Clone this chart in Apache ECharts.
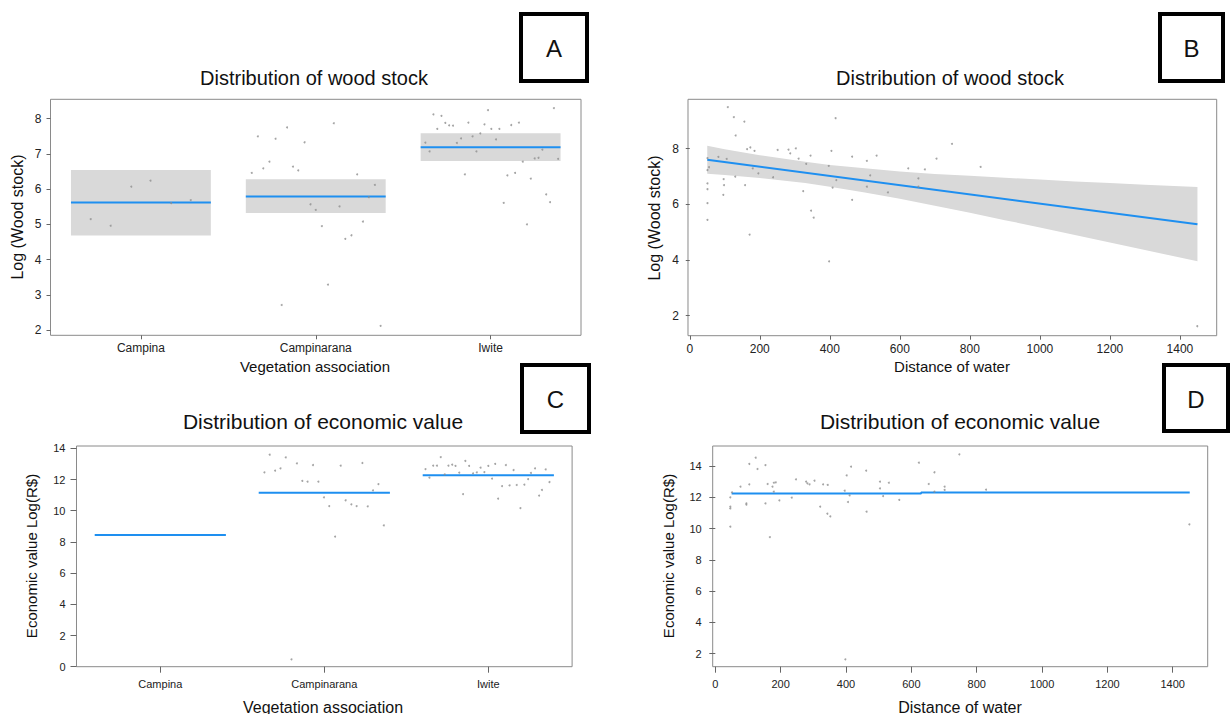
<!DOCTYPE html>
<html>
<head>
<meta charset="utf-8">
<script src="https://cdn.jsdelivr.net/npm/echarts@6/dist/echarts.min.js"></script>
<style>
html,body{margin:0;padding:0;background:#fff;}
#c{width:1231px;height:714px;}
</style>
</head>
<body>
<div id="c"></div>
<script>
// ---------- data ----------
const vegCategories = ['Campina', 'Campinarana', 'Iwite'];
const catPositions = [1, 2, 3];

// Panel A: wood stock by vegetation (effect bands)
const woodMean = [5.62, 5.79, 7.19];
const woodLow = [4.68, 5.32, 6.80];
const woodHigh = [6.54, 6.28, 7.585];
const woodPointsA = [
  [0.713,5.15],[0.827,4.96],[0.945,6.07],[1.055,6.24],[1.173,5.60],[1.285,5.69],
  [1.634,6.46],[1.669,7.50],[1.700,6.59],[1.735,6.78],[1.770,7.43],[1.805,2.71],[1.836,7.75],
  [1.870,6.64],[1.900,6.53],[1.936,7.33],[1.970,5.57],[2.000,5.41],[2.035,4.95],[2.070,3.29],
  [2.103,7.87],[2.136,5.51],[2.169,4.59],[2.204,4.69],[2.237,6.42],[2.270,5.08],[2.303,5.77],
  [2.338,6.12],[2.371,2.12],
  [2.627,7.32],[2.651,7.07],[2.673,8.12],[2.695,7.71],[2.719,8.08],[2.741,7.88],[2.763,7.81],
  [2.785,7.80],[2.807,7.31],[2.831,7.44],[2.853,6.42],[2.873,7.89],[2.897,7.50],[2.919,7.07],
  [2.941,7.58],[2.965,7.84],[2.985,8.24],[3.004,7.71],[3.031,7.41],[3.050,7.71],[3.075,5.61],
  [3.096,6.39],[3.118,7.82],[3.140,6.46],[3.162,7.89],[3.184,6.78],[3.208,5.00],[3.230,6.30],
  [3.252,6.87],[3.274,6.89],[3.296,7.12],[3.318,5.85],[3.340,5.63],[3.362,8.30],[3.386,6.86]
];
const yTicksA = [2, 3, 4, 5, 6, 7, 8];

// Panel B: wood stock vs distance of water
const fitLineB = [[50, 7.60], [1450, 5.28]];
const bandBX    = [50,   100,  200,  330,  400,  500,  600,  700,  800,  900,  1000, 1100, 1200, 1300, 1450];
const bandBHigh = [8.10, 7.98, 7.76, 7.53, 7.41, 7.29, 7.18, 7.09, 7.02, 6.95, 6.89, 6.82, 6.76, 6.70, 6.62];
const bandBLow  = [7.10, 7.05, 6.94, 6.76, 6.63, 6.42, 6.20, 5.95, 5.70, 5.43, 5.17, 4.90, 4.63, 4.36, 3.95];
const woodPointsB = [
  [108.7,9.49],[125.9,9.13],[156,8.97],[131,8.47],[50.6,7.66],[54.9,7.33],[50.6,7.23],[50.6,6.75],
  [50.6,6.54],[50.6,6.04],[50.6,5.44],[81.8,7.70],[105.5,7.63],[96.8,6.90],[97.9,6.69],[95.8,6.34],
  [130,6.99],[158,6.69],[171,4.91],[163.6,7.98],[173,8.04],[185,7.92],[180,7.29],[196,7.11],
  [238,6.97],[251,7.95],[282,7.96],[287,7.83],[303,8.01],[311,7.64],[324,6.47],[332.6,7.45],
  [345,7.75],[346.5,5.77],[354,5.52],[397,7.38],[398,3.95],[404.6,7.92],[408,6.60],[416.5,9.09],
  [418.6,6.87],[463.8,7.71],[463.8,6.16],[505.8,7.56],[505.8,6.63],[515.4,7.04],[533.7,7.75],
  [566,6.43],[624,7.29],[653,6.93],[653,6.63],[671.5,7.25],[704.8,7.64],[749,8.17],[830.7,7.34],
  [1449.5,1.62]
];
const xTicksB = [0, 200, 400, 600, 800, 1000, 1200, 1400];
const yTicksB = [2, 4, 6, 8];

// Panel C: economic value by vegetation
const econMean = [8.44, 11.16, 12.27];
const econPointsC = [
  [1.635,12.46],[1.667,13.59],[1.700,12.57],[1.733,12.72],[1.765,13.42],[1.800,0.47],[1.833,13.04],
  [1.866,11.91],[1.898,11.86],[1.931,12.93],[1.964,11.86],[1.998,10.86],[2.030,10.30],[2.066,8.34],
  [2.100,12.89],[2.130,10.67],[2.165,10.41],[2.197,10.30],[2.232,13.06],[2.265,10.28],[2.297,11.31],
  [2.330,11.71],[2.363,9.06],
  [2.617,12.67],[2.641,12.12],[2.664,12.89],[2.687,12.89],[2.710,13.44],[2.734,12.33],[2.757,12.89],
  [2.780,12.95],[2.800,12.87],[2.823,12.44],[2.846,11.07],[2.860,13.19],[2.883,12.87],[2.907,12.40],
  [2.930,12.46],[2.953,12.76],[2.976,12.48],[3.000,12.87],[3.023,12.06],[3.042,13.00],[3.060,10.77],
  [3.084,11.58],[3.107,12.93],[3.130,11.63],[3.154,12.61],[3.173,11.65],[3.196,10.17],[3.220,11.67],
  [3.243,12.03],[3.260,12.42],[3.285,12.72],[3.310,10.97],[3.327,11.33],[3.350,12.65],[3.373,11.84]
];
const yTicksC = [0, 2, 4, 6, 8, 10, 12, 14];

// Panel D: economic value vs distance of water
const fitLineD = [[50, 12.25], [630, 12.25], [630, 12.30], [1452, 12.30]];
const econPointsD = [
  [46,10.12],[46,11.29],[46,11.40],[46,12.00],[51,12.32],[77,12.68],[95,11.61],[95,11.53],[104,14.13],
  [104,12.83],[123.5,14.53],[129,13.81],[153.5,14.06],[153.5,11.61],[160,12.85],[167,9.46],[175,12.68],
  [179,12.36],[179,12.93],[185,12.96],[196,11.80],[234,11.98],[247,13.15],[278,13.00],[282,12.89],
  [288.5,12.83],[303.5,13.06],[321,11.40],[330,12.83],[343,10.95],[344,12.79],[352,10.78],[396,12.42],
  [398,1.64],[402,13.40],[406,11.70],[411,12.12],[415.5,13.96],[461.7,13.70],[463,11.08],[504,13.00],
  [504,12.57],[513.6,12.08],[531,12.93],[563,11.83],[623,14.21],[653,12.85],[670.6,13.60],[670.6,12.36],
  [701.8,12.68],[701.8,12.47],[747,14.75],[828.7,12.49],[1451,10.27]
];
const xTicksD = [0, 200, 400, 600, 800, 1000, 1200, 1400];
const yTicksD = [2, 4, 6, 8, 10, 12, 14];

// ---------- styling ----------
const BLUE = '#1e8ff0';
const BAND = '#d9d9d9';
const PT = '#8f8f8f';
const BORDER = '#8a8a8a';
const FONT = 'Liberation Sans, Arial, sans-serif';

function valueAxis(gridIndex, min, max, ticks, fontSize, margin, tickLen, fmt) {
  return {
    type: 'value', gridIndex, min, max,
    splitLine: {show: false},
    axisLine: {show: false},
    axisTick: {show: true, inside: false, length: tickLen, customValues: ticks, lineStyle: {color: '#666'}},
    axisLabel: {show: true, customValues: ticks, fontSize, margin, color: '#222', fontFamily: FONT,
      formatter: fmt || (v => String(v))}
  };
}
const catFmt = v => vegCategories[Math.round(v) - 1] || '';

const grids = [
  {left: 50.5, top: 99.3, width: 530.5, height: 236},
  {left: 688, top: 99.3, width: 528.7, height: 236.4},
  {left: 76.5, top: 446, width: 495.6, height: 220.7},
  {left: 712.7, top: 446, width: 495, height: 220.7}
].map(g => Object.assign({show: true, borderColor: BORDER, borderWidth: 1, backgroundColor: 'transparent'}, g));

function renderBandA(params, api) {
  const c = api.value(0), lo = api.value(1), hi = api.value(2), m = api.value(3);
  const p1 = api.coord([c - 0.4, hi]), p2 = api.coord([c + 0.4, lo]);
  const l1 = api.coord([c - 0.4, m]), l2 = api.coord([c + 0.4, m]);
  return {type: 'group', children: [
    {type: 'rect', shape: {x: p1[0], y: p1[1], width: p2[0] - p1[0], height: p2[1] - p1[1]}, style: {fill: BAND}},
    {type: 'line', shape: {x1: l1[0], y1: l1[1], x2: l2[0], y2: l2[1]}, style: {stroke: BLUE, lineWidth: 2}}
  ]};
}
function renderMeanC(params, api) {
  const c = api.value(0), m = api.value(1);
  const l1 = api.coord([c - 0.4, m]), l2 = api.coord([c + 0.4, m]);
  return {type: 'line', shape: {x1: l1[0], y1: l1[1], x2: l2[0], y2: l2[1]}, style: {stroke: BLUE, lineWidth: 2}};
}
function renderBandB(params, api) {
  const pts = [];
  for (let i = 0; i < bandBX.length; i++) pts.push(api.coord([bandBX[i], bandBHigh[i]]));
  for (let i = bandBX.length - 1; i >= 0; i--) pts.push(api.coord([bandBX[i], bandBLow[i]]));
  return {type: 'polygon', shape: {points: pts}, style: {fill: BAND}};
}

const bandAData = catPositions.map((c, i) => [c, woodLow[i], woodHigh[i], woodMean[i]]);
const meanCData = catPositions.map((c, i) => [c, econMean[i]]);

function scatter(xi, data) {
  return {type: 'scatter', xAxisIndex: xi, yAxisIndex: xi, data, symbol: 'circle', symbolSize: 2,
    itemStyle: {color: PT}, silent: true, z: 5};
}

function txt(x, y, text, size, rot, extra) {
  return Object.assign({type: 'text', x, y, rotation: rot || 0, silent: true,
    style: {text, fontSize: size, fontFamily: FONT, fill: '#111', align: 'center', verticalAlign: 'middle'}}, extra || {});
}
function letterBox(x, y, w, h, letter) {
  return [
    {type: 'rect', shape: {x, y, width: w, height: h}, style: {fill: '#fff', stroke: '#000', lineWidth: 4}},
    txt(x + w / 2, y + h / 2 + 1, letter, 24)
  ];
}

const option = {
  animation: false,
  backgroundColor: '#fff',
  grid: grids,
  xAxis: [
    valueAxis(0, 0.483, 3.517, catPositions, 12, 7, 4, catFmt),
    valueAxis(1, -5, 1505, xTicksB, 12, 7, 4),
    valueAxis(2, 0.489, 3.511, catPositions, 11, 12, 6, catFmt),
    valueAxis(3, -8, 1507, xTicksD, 11, 12, 6)
  ],
  yAxis: [
    valueAxis(0, 1.85, 8.55, yTicksA, 12, 9, 4),
    valueAxis(1, 1.28, 9.77, yTicksB, 12, 9, 4),
    valueAxis(2, 0, 14.15, yTicksC, 11, 11, 6),
    valueAxis(3, 1.17, 15.28, yTicksD, 11, 11, 6)
  ],
  series: [
    {type: 'custom', xAxisIndex: 0, yAxisIndex: 0, renderItem: renderBandA, data: bandAData, silent: true, z: 2},
    scatter(0, woodPointsA),
    {type: 'custom', xAxisIndex: 1, yAxisIndex: 1, renderItem: renderBandB, data: [[bandBX[0], bandBLow[0]]], silent: true, z: 1},
    {type: 'line', xAxisIndex: 1, yAxisIndex: 1, data: fitLineB, showSymbol: false, silent: true,
      lineStyle: {color: BLUE, width: 2}, z: 3},
    scatter(1, woodPointsB),
    {type: 'custom', xAxisIndex: 2, yAxisIndex: 2, renderItem: renderMeanC, data: meanCData, silent: true, z: 3},
    scatter(2, econPointsC),
    {type: 'line', xAxisIndex: 3, yAxisIndex: 3, data: fitLineD, showSymbol: false, silent: true,
      lineStyle: {color: BLUE, width: 2}, z: 3},
    scatter(3, econPointsD)
  ],
  graphic: [
    txt(314, 78, 'Distribution of wood stock', 20),
    txt(950, 78, 'Distribution of wood stock', 20),
    txt(323, 421, 'Distribution of economic value', 21),
    txt(960, 421, 'Distribution of economic value', 21),
    txt(315, 366, 'Vegetation association', 15),
    txt(952, 366, 'Distance of water', 15),
    txt(323, 707, 'Vegetation association', 16),
    txt(960, 707, 'Distance of water', 16),
    txt(17, 217, 'Log (Wood stock)', 16, Math.PI / 2),
    txt(654, 218, 'Log (Wood stock)', 16, Math.PI / 2),
    txt(31, 556, 'Economic value Log(R$)', 15, Math.PI / 2),
    txt(668, 556, 'Economic value Log(R$)', 15, Math.PI / 2),
    ...letterBox(521, 14, 66, 67, 'A'),
    ...letterBox(1160, 14, 63, 67, 'B'),
    ...letterBox(522, 365, 67, 67, 'C'),
    ...letterBox(1164, 365, 64, 66, 'D')
  ]
};

const chart = echarts.init(document.getElementById('c'), null, {renderer: 'svg', width: 1231, height: 714});
chart.setOption(option);
</script>
</body>
</html>
